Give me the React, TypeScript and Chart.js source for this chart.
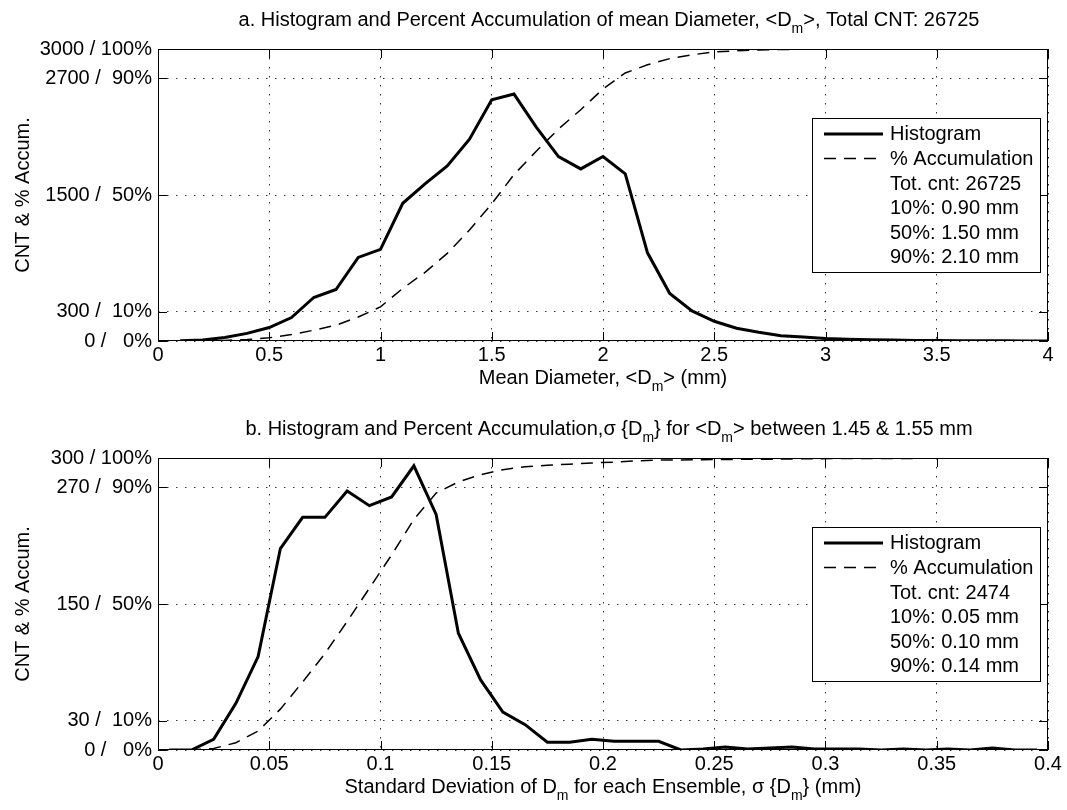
import React, { useEffect, useRef } from 'react';
import { Chart, registerables } from 'chart.js';

Chart.register(...registerables);

const FONT = '"Liberation Sans", Arial, Helvetica, sans-serif';

// ---------- Panel a : mean diameter ----------
const diamBins = [0.1, 0.2, 0.3, 0.4, 0.5, 0.6, 0.7, 0.8, 0.9, 1.0, 1.1, 1.2, 1.3, 1.4, 1.5, 1.6, 1.7, 1.8, 1.9, 2.0,
  2.1, 2.2, 2.3, 2.4, 2.5, 2.6, 2.7, 2.8, 2.9, 3.0, 3.1, 3.2, 3.3, 3.4, 3.5, 3.6, 3.7, 3.8, 3.9, 4.0];
const diamHist = [2, 10, 35, 78, 138, 241, 447, 529, 859, 941, 1415, 1614, 1799, 2074, 2479, 2537, 2198, 1895, 1768, 1895,
  1717, 906, 488, 309, 203, 131, 90, 55, 41, 25, 18, 12, 9, 6, 4, 3, 2, 2, 1, 1];
const diamAccum = [0, 0.05, 0.2, 0.5, 1.1, 2.2, 3.7, 5.4, 8.2, 11.7, 18, 23.5, 30, 38, 47, 57, 65, 72.6, 79.2, 86.3,
  91.8, 94.6, 96.7, 98, 99, 99.4, 99.7, 99.85, 99.9, 99.95, 100, 100, 100, 100, 100, 100, 100, 100, 100, 100];
const diamXTicks = [0, 0.5, 1, 1.5, 2, 2.5, 3, 3.5, 4];
const diamXTickLabels = ['0', '0.5', '1', '1.5', '2', '2.5', '3', '3.5', '4'];
const diamYTicks = [0, 300, 1500, 2700, 3000];
const diamYTickLabels = ['0 /   0%', '300 /  10%', '1500 /  50%', '2700 /  90%', '3000 / 100%'];
const diamLegendStats = ['Tot. cnt: 26725', '10%: 0.90 mm', '50%: 1.50 mm', '90%: 2.10 mm'];
const diamTitle: [string, boolean][] = [
  ['a. Histogram and Percent Accumulation of mean Diameter, <D', false], ['m', true], ['>, Total CNT: 26725', false],
];
const diamXLabel: [string, boolean][] = [['Mean Diameter, <D', false], ['m', true], ['> (mm)', false]];

// ---------- Panel b : standard deviation ----------
const sdBins = [0.005, 0.015, 0.025, 0.035, 0.045, 0.055, 0.065, 0.075, 0.085, 0.095, 0.105, 0.115, 0.125, 0.135,
  0.145, 0.155, 0.165, 0.175, 0.185, 0.195, 0.205, 0.215, 0.225, 0.235, 0.245, 0.255, 0.265, 0.275, 0.285, 0.295,
  0.305, 0.315, 0.325, 0.335, 0.345, 0.355, 0.365, 0.375, 0.385, 0.395];
const sdHist = [0, 0, 11, 48, 96, 207, 239, 239, 266, 251, 260, 292, 242, 120, 72, 39, 26, 8, 8, 11, 9, 9, 9, 0, 1,
  3, 1, 2, 3, 1, 1, 1, 0, 1, 0, 1, 0, 2, 0, 0];
const sdAccum = [0, 0, 0.5, 2.5, 6.5, 14, 23.3, 33, 44, 55.4, 66.8, 79, 88, 91.8, 94.3, 96, 97, 97.5, 97.9, 98.3,
  98.6, 99.0, 99.3, 99.35, 99.4, 99.5, 99.55, 99.6, 99.7, 99.75, 99.8, 99.82, 99.84, 99.86, 99.88, 99.9, 99.92,
  99.96, 99.98, 100];
const sdXTicks = [0, 0.05, 0.1, 0.15, 0.2, 0.25, 0.3, 0.35, 0.4];
const sdXTickLabels = ['0', '0.05', '0.1', '0.15', '0.2', '0.25', '0.3', '0.35', '0.4'];
const sdYTicks = [0, 30, 150, 270, 300];
const sdYTickLabels = ['0 /   0%', '30 /  10%', '150 /  50%', '270 /  90%', '300 / 100%'];
const sdLegendStats = ['Tot. cnt: 2474', '10%: 0.05 mm', '50%: 0.10 mm', '90%: 0.14 mm'];
const sdTitle: [string, boolean][] = [
  ['b. Histogram and Percent Accumulation,\u03c3 {D', false], ['m', true], ['} for <D', false], ['m', true],
  ['> between 1.45 & 1.55 mm', false],
];
const sdXLabel: [string, boolean][] = [
  ['Standard Deviation of D', false], ['m', true], [' for each Ensemble, \u03c3 {D', false], ['m', true], ['} (mm)', false],
];

const seriesLabels = ['Histogram', '% Accumulation'];
const yAxisLabel = 'CNT & % Accum.';

type Seg = [string, boolean];

interface PanelProps {
  bins: number[];
  hist: number[];
  accum: number[];
  xMax: number;
  yMax: number;
  xTicks: number[];
  xTickLabels: string[];
  yTicks: number[];
  yTickLabels: string[];
  stats: string[];
  title: Seg[];
  xLabel: Seg[];
  padTop: number;
  xAxisHeight: number;
}

const MAIN = 20;
const SUB = 14;

function drawRich(ctx: CanvasRenderingContext2D, segs: Seg[], cx: number, baseline: number) {
  let total = 0;
  const widths = segs.map(([t, sub]) => {
    ctx.font = `${sub ? SUB : MAIN}px ${FONT}`;
    const w = ctx.measureText(t).width;
    total += w;
    return w;
  });
  let x = cx - total / 2;
  ctx.fillStyle = '#000';
  ctx.textAlign = 'left';
  ctx.textBaseline = 'alphabetic';
  segs.forEach(([t, sub], i) => {
    ctx.font = `${sub ? SUB : MAIN}px ${FONT}`;
    ctx.fillText(t, x, baseline + (sub ? 7 : 0));
    x += widths[i];
  });
}

function Panel(p: PanelProps) {
  const ref = useRef<HTMLCanvasElement | null>(null);
  useEffect(() => {
    if (!ref.current) return;
    const deco = {
      id: 'matlabDeco',
      beforeDatasetsDraw(chart: any) {
        const { ctx, chartArea: ca } = chart;
        const xs = chart.scales.x;
        const ys = chart.scales.y;
        ctx.save();
        ctx.strokeStyle = '#000';
        ctx.lineWidth = 1;
        ctx.setLineDash([]);
        ctx.strokeRect(ca.left + 0.5, ca.top + 0.5, ca.right - ca.left - 1, ca.bottom - ca.top - 1);
        const tl = 9;
        ctx.beginPath();
        p.xTicks.forEach((v) => {
          const px = Math.round(xs.getPixelForValue(v)) + 0.5;
          ctx.moveTo(px, ca.bottom);
          ctx.lineTo(px, ca.bottom - tl);
          ctx.moveTo(px, ca.top);
          ctx.lineTo(px, ca.top + tl);
        });
        p.yTicks.forEach((v) => {
          const py = Math.round(ys.getPixelForValue(v)) + 0.5;
          ctx.moveTo(ca.left, py);
          ctx.lineTo(ca.left + tl, py);
          ctx.moveTo(ca.right, py);
          ctx.lineTo(ca.right - tl, py);
        });
        ctx.stroke();
        ctx.restore();
      },
      afterDatasetsDraw(chart: any) {
        const { ctx, chartArea: ca } = chart;
        const bx = ca.left + 654;
        const by = ca.top + 69;
        const bw = 228;
        const bh = 154;
        ctx.save();
        ctx.fillStyle = '#fff';
        ctx.fillRect(bx, by, bw, bh);
        ctx.strokeStyle = '#000';
        ctx.lineWidth = 1;
        ctx.setLineDash([]);
        ctx.strokeRect(bx + 0.5, by + 0.5, bw, bh);
        const rows: { text: string; ds?: number }[] = [
          ...chart.data.datasets.map((d: any, i: number) => ({ text: d.label, ds: i })),
          ...p.stats.map((t) => ({ text: t })),
        ];
        ctx.font = `${MAIN}px ${FONT}`;
        ctx.textAlign = 'left';
        ctx.textBaseline = 'alphabetic';
        rows.forEach((r, i) => {
          const base = by + 22.4 + i * 24.6;
          if (r.ds !== undefined) {
            const d = chart.data.datasets[r.ds];
            ctx.beginPath();
            ctx.strokeStyle = d.borderColor;
            ctx.lineWidth = d.borderWidth;
            ctx.setLineDash(d.borderDash || []);
            ctx.moveTo(bx + 12, base - 6.4);
            ctx.lineTo(bx + 71, base - 6.4);
            ctx.stroke();
            ctx.setLineDash([]);
          }
          ctx.fillStyle = '#000';
          ctx.fillText(r.text, bx + 78, base);
        });
        ctx.restore();
      },
      afterDraw(chart: any) {
        const { ctx, chartArea: ca } = chart;
        const cx = (ca.left + ca.right) / 2;
        ctx.save();
        drawRich(ctx, p.title, cx + 6, ca.top - 22.6);
        drawRich(ctx, p.xLabel, cx, ca.bottom + 42.6);
        ctx.restore();
      },
    };

    const gridCommon = { color: 'rgba(0,0,0,0.8)', lineWidth: 1, drawTicks: false };
    const borderCommon = { display: false, dash: [1.5, 7.5] };
    const tickFont = { family: FONT, size: MAIN };

    const chart = new Chart(ref.current, {
      type: 'line',
      data: {
        datasets: [
          {
            label: seriesLabels[0],
            data: p.bins.map((x, i) => ({ x, y: p.hist[i] })),
            borderColor: '#000',
            borderWidth: 3,
            pointRadius: 0,
            tension: 0,
            fill: false,
            yAxisID: 'y',
          },
          {
            label: seriesLabels[1],
            data: p.bins.map((x, i) => ({ x, y: p.accum[i] })),
            borderColor: '#000',
            borderWidth: 1.5,
            borderDash: [12, 8],
            pointRadius: 0,
            tension: 0,
            fill: false,
            yAxisID: 'y2',
          },
        ],
      },
      options: {
        animation: false,
        responsive: false,
        devicePixelRatio: 1,
        events: [],
        layout: { padding: { top: p.padTop, right: 19, bottom: 0, left: 0 } },
        plugins: { legend: { display: false }, title: { display: false }, tooltip: { enabled: false } },
        scales: {
          x: {
            type: 'linear',
            min: 0,
            max: p.xMax,
            position: 'bottom',
            afterBuildTicks: (s: any) => {
              s.ticks = p.xTicks.map((v) => ({ value: v }));
            },
            afterFit: (s: any) => {
              s.height = p.xAxisHeight;
            },
            ticks: {
              autoSkip: false,
              maxRotation: 0,
              padding: 2,
              color: '#000',
              font: tickFont,
              callback: (_v: any, i: number) => p.xTickLabels[i],
            },
            grid: gridCommon,
            border: borderCommon,
          },
          y: {
            type: 'linear',
            min: 0,
            max: p.yMax,
            position: 'left',
            afterBuildTicks: (s: any) => {
              s.ticks = p.yTicks.map((v) => ({ value: v }));
            },
            afterFit: (s: any) => {
              s.width = 158;
            },
            ticks: {
              autoSkip: false,
              padding: 6,
              color: '#000',
              font: tickFont,
              callback: (_v: any, i: number) => p.yTickLabels[i],
            },
            grid: gridCommon,
            border: borderCommon,
            title: {
              display: true,
              text: yAxisLabel,
              color: '#000',
              font: { family: FONT, size: MAIN },
              padding: { top: 11, bottom: 0 },
            },
          },
          y2: { type: 'linear', min: 0, max: 100, display: false },
        },
      } as any,
      plugins: [deco],
    });
    return () => chart.destroy();
  }, []);
  return <canvas ref={ref} width={1067} height={405} style={{ display: 'block', width: 1067, height: 405 }} />;
}

export default function App() {
  return (
    <div style={{ position: 'absolute', left: 0, top: 0, width: 1067, height: 810, background: '#fff' }}>
      <Panel bins={diamBins} hist={diamHist} accum={diamAccum} xMax={4} yMax={3000} xTicks={diamXTicks}
        xTickLabels={diamXTickLabels} yTicks={diamYTicks} yTickLabels={diamYTickLabels} stats={diamLegendStats}
        title={diamTitle} xLabel={diamXLabel} padTop={49} xAxisHeight={64} />
      <Panel bins={sdBins} hist={sdHist} accum={sdAccum} xMax={0.4} yMax={300} xTicks={sdXTicks}
        xTickLabels={sdXTickLabels} yTicks={sdYTicks} yTickLabels={sdYTickLabels} stats={sdLegendStats}
        title={sdTitle} xLabel={sdXLabel} padTop={53} xAxisHeight={60} />
    </div>
  );
}
